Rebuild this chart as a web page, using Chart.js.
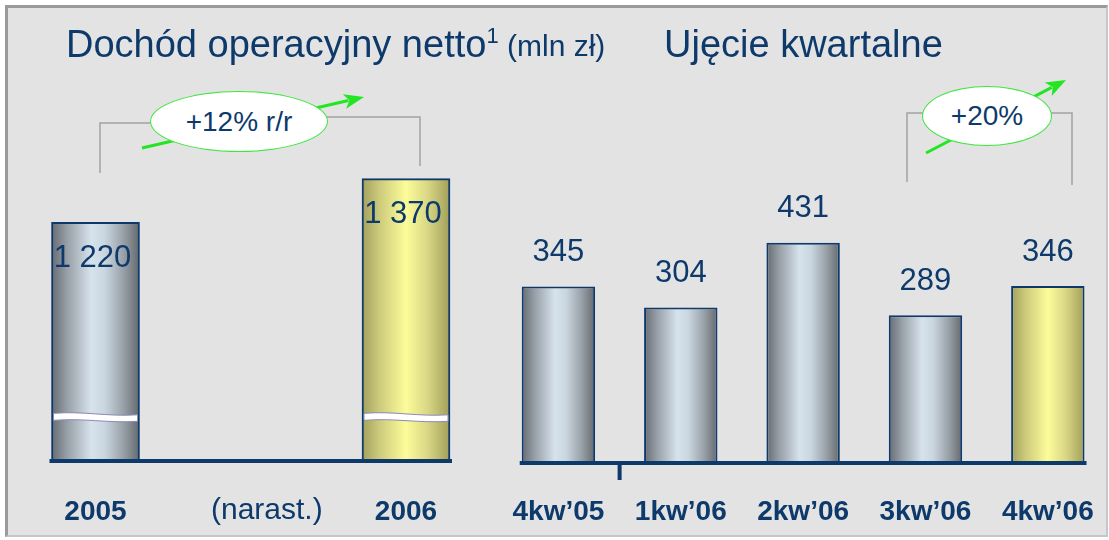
<!DOCTYPE html>
<html><head><meta charset="utf-8">
<script src="https://cdn.jsdelivr.net/npm/chart.js@4.4.1/dist/chart.umd.min.js"></script>
<style>
html,body{margin:0;padding:0;background:#fff;width:1109px;height:540px;overflow:hidden;font-family:"Liberation Sans",Arial,sans-serif;}
#frame{position:absolute;left:5px;top:5px;width:1098px;height:527px;background:#e3e3e3;border-left:3px solid #9a9a9a;border-top:3px solid #9a9a9a;border-right:2px solid #c6c6c6;border-bottom:2px solid #c6c6c6;}
canvas{position:absolute;top:0;}
.t{position:absolute;white-space:nowrap;color:#0d3a6b;line-height:1;}
.ell{position:absolute;border:1.5px solid #3ee63e;border-radius:50%;background:#fff;box-sizing:border-box;display:flex;align-items:center;justify-content:center;color:#0d3a6b;font-size:28px;}
</style></head>
<body>
<div id="frame"></div>
<canvas id="cL" width="480" height="540" style="left:0;width:480px;height:540px"></canvas>
<canvas id="cR" width="629" height="540" style="left:480px;width:629px;height:540px"></canvas>
<canvas id="ov" width="1109" height="540" style="left:0;width:1109px;height:540px"></canvas>
<div class="t" style="left:66px;top:24.8px;font-size:38px">Dochód operacyjny netto<span style="font-size:22px;position:relative;top:-14px">1</span></div>
<div class="t" style="left:507px;top:31px;font-size:30px">(mln zł)</div>
<div class="t" style="left:664px;top:24.8px;font-size:38px">Ujęcie kwartalne</div>
<div class="t" style="left:211px;top:494px;font-size:30px">(narast.)</div>
<div class="ell" style="left:150px;top:91px;width:178px;height:61px">+12% r/r</div>
<div class="ell" style="left:922px;top:86px;width:130px;height:60px">+20%</div>
<script>
// ---- data ----
const annualLabels = ['2005', '2006'];
const annualValues = [1220, 1370];
const quarterLabels = ['4kw\u201905', '1kw\u201906', '2kw\u201906', '3kw\u201906', '4kw\u201906'];
const quarterValues = [345, 304, 431, 289, 346];
const annualAxisMin = 400;   // broken axis
const annualAxisMax = 1640;
const annualBreakValue = 550;
const quarterAxisMax = 710;

const NAVY = '#0d3a6b';
const FONT = '"Liberation Sans", Arial, sans-serif';

function fmt(v){ return String(v).replace(/\B(?=(\d{3})+(?!\d))/g, ' '); }

function makeGrad(ctx, left, right, gold){
  const g = ctx.createLinearGradient(left, 0, right, 0);
  if (gold){
    g.addColorStop(0, '#a3a05c'); g.addColorStop(0.2, '#cdcb7c');
    g.addColorStop(0.5, '#fdfc9a'); g.addColorStop(0.75, '#d8d684'); g.addColorStop(1, '#a19e5a');
  } else {
    g.addColorStop(0, '#666b71'); g.addColorStop(0.18, '#98a0a8');
    g.addColorStop(0.45, '#d6e2ec'); g.addColorStop(0.6, '#cbd7e0');
    g.addColorStop(0.82, '#98a0a7'); g.addColorStop(1, '#63686d');
  }
  return g;
}

function gradFill(widthFn){
  return (c) => {
    if (c.type !== 'data') return '#aab4bc';
    const chart = c.chart, xs = chart.scales && chart.scales.x;
    if (!xs) return '#aab4bc';
    const cx = xs.getPixelForValue(c.dataIndex);
    const w = widthFn(chart);
    if (!isFinite(cx) || !isFinite(w) || w <= 0) return '#aab4bc';
    const last = c.dataIndex === chart.data.labels.length - 1;
    return makeGrad(chart.ctx, cx - w / 2, cx + w / 2, last);
  };
}

const valueLabels = {
  id: 'valueLabels',
  afterDatasetsDraw(chart, args, opts){
    const meta = chart.getDatasetMeta(0), ctx = chart.ctx;
    const data = chart.data.datasets[0].data;
    ctx.save();
    ctx.font = '31px ' + FONT; ctx.fillStyle = NAVY;
    ctx.textAlign = 'center'; ctx.textBaseline = 'middle';
    meta.data.forEach((el, i) => ctx.fillText(fmt(data[i]), el.x + (opts.dx || 0), el.y + opts.dy));
    ctx.restore();
  }
};

const baseline = {
  id: 'baseline',
  afterDatasetsDraw(chart, args, opts){
    const meta = chart.getDatasetMeta(0), ctx = chart.ctx;
    const first = meta.data[0], last = meta.data[meta.data.length - 1];
    const y = chart.chartArea.bottom;
    ctx.save();
    ctx.strokeStyle = NAVY; ctx.lineWidth = 4;
    ctx.beginPath();
    ctx.moveTo(first.x - first.width / 2 - 2, y);
    ctx.lineTo(last.x + last.width / 2 + 2, y);
    ctx.stroke();
    if (opts.tickBetween){
      const a = meta.data[opts.tickBetween[0]], b = meta.data[opts.tickBetween[1]];
      const tx = (a.x + b.x) / 2;
      ctx.beginPath(); ctx.moveTo(tx, y); ctx.lineTo(tx, y + 17); ctx.stroke();
    }
    ctx.restore();
  }
};

const axisBreak = {
  id: 'axisBreak',
  afterDatasetsDraw(chart, args, opts){
    if (opts.value == null) return;
    const meta = chart.getDatasetMeta(0), ctx = chart.ctx;
    const y = chart.scales.y.getPixelForValue(opts.value);
    meta.data.forEach(el => {
      const L = el.x - el.width / 2 + 2, R = el.x + el.width / 2 - 2, w = R - L;
      ctx.save();
      ctx.beginPath();
      ctx.moveTo(L, y - 4);
      ctx.bezierCurveTo(L + w * 0.35, y - 6.5, L + w * 0.65, y - 0.5, R, y - 2.5);
      ctx.lineTo(R, y + 4);
      ctx.bezierCurveTo(L + w * 0.65, y + 6, L + w * 0.35, y + 0.5, L, y + 3);
      ctx.closePath();
      ctx.fillStyle = '#ffffff'; ctx.fill();
      ctx.strokeStyle = '#8c89b8'; ctx.lineWidth = 1; ctx.stroke();
      ctx.restore();
    });
  }
};

const tickFont = { family: FONT, size: 28, weight: 'bold' };
function fixAxis(h){ return (s) => { s.height = h; s.paddingLeft = 0; s.paddingRight = 0; }; }

function safe(fn){ try { fn(); } catch (e) { console.error(e); } }

// ---- left chart: annual (cumulative), broken axis ----
safe(() => new Chart(document.getElementById('cL'), {
  type: 'bar',
  data: { labels: annualLabels, datasets: [{
    data: annualValues,
    base: annualAxisMin,
    backgroundColor: gradFill(() => 88),
    borderColor: NAVY, borderWidth: 2,
    barThickness: 88, clip: false
  }]},
  options: {
    responsive: false, animation: false,
    layout: { padding: { left: 95.5, right: 74, top: 100, bottom: 0 } },
    plugins: { legend: { display: false }, tooltip: { enabled: false },
      valueLabels: { dy: 36, dx: -3 }, axisBreak: { value: annualBreakValue }, baseline: {} },
    scales: {
      x: { offset: false, grid: { display: false, drawTicks: false }, border: { display: false },
           afterFit: fixAxis(79),
           ticks: { font: tickFont, color: NAVY, padding: 34.2, maxRotation: 0, autoSkip: false } },
      y: { display: false, min: annualAxisMin, max: annualAxisMax }
    }
  },
  plugins: [axisBreak, baseline, valueLabels]
}));

// ---- right chart: quarterly ----
safe(() => new Chart(document.getElementById('cR'), {
  type: 'bar',
  data: { labels: quarterLabels, datasets: [{
    data: quarterValues,
    backgroundColor: gradFill((ch) => ch.scales.x.width / quarterLabels.length * 0.6),
    borderColor: NAVY, borderWidth: 2,
    categoryPercentage: 1, barPercentage: 0.6
  }]},
  options: {
    responsive: false, animation: false,
    layout: { padding: { left: 17.25, right: 0, top: 100, bottom: 0 } },
    plugins: { legend: { display: false }, tooltip: { enabled: false },
      valueLabels: { dy: -34 }, baseline: { tickBetween: [0, 1] } },
    scales: {
      x: { grid: { display: false, drawTicks: false }, border: { display: false },
           afterFit: fixAxis(77),
           ticks: { font: tickFont, color: NAVY, padding: 32.2, maxRotation: 0, autoSkip: false } },
      y: { display: false, min: 0, max: quarterAxisMax }
    }
  },
  plugins: [baseline, valueLabels]
}));

// ---- decorations: brackets and growth arrows ----
(function(){
  const c = document.getElementById('ov').getContext('2d');
  c.strokeStyle = '#a2a2a2'; c.lineWidth = 1.5;
  const seg = (pts) => { c.beginPath(); c.moveTo(pts[0][0], pts[0][1]); for (let i = 1; i < pts.length; i++) c.lineTo(pts[i][0], pts[i][1]); c.stroke(); };
  seg([[100,173],[100,123],[152,123]]);
  seg([[326,117],[420,117],[420,166]]);
  seg([[907,182],[907,113],[925,113]]);
  seg([[1050,113],[1072,113],[1072,185]]);
  function arrow(x1, y1, x2, y2){
    const a = Math.atan2(y2 - y1, x2 - x1), L = 20, H = 7.5;
    const bx = x2 - L * Math.cos(a), by = y2 - L * Math.sin(a);
    c.strokeStyle = '#22e622'; c.fillStyle = '#22e622'; c.lineWidth = 3;
    c.beginPath(); c.moveTo(x1, y1); c.lineTo(bx + 4 * Math.cos(a), by + 4 * Math.sin(a)); c.stroke();
    c.beginPath(); c.moveTo(x2, y2);
    c.lineTo(bx - H * Math.sin(a), by + H * Math.cos(a));
    c.lineTo(bx + 5 * Math.cos(a), by + 5 * Math.sin(a));
    c.lineTo(bx + H * Math.sin(a), by - H * Math.cos(a));
    c.closePath(); c.fill();
  }
  arrow(142, 148, 364, 97);
  arrow(926, 153, 1066, 80);
})();
</script>
</body></html>
